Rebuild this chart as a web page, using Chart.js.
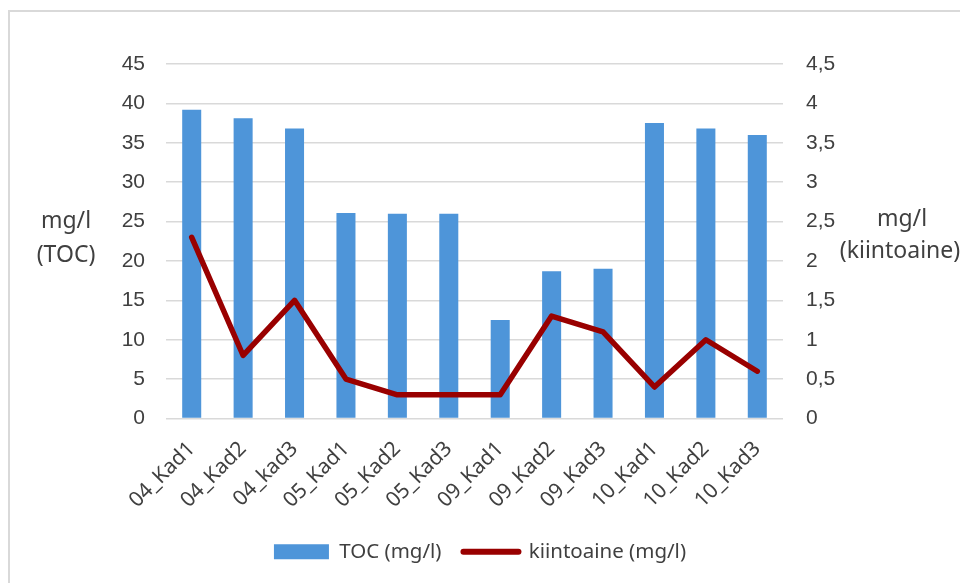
<!DOCTYPE html>
<html>
<head>
<meta charset="utf-8">
<script src="https://cdn.jsdelivr.net/npm/chart.js@4"></script>
<style>
  html, body { margin: 0; padding: 0; background: #fff; }
  #frame {
    position: absolute; left: 8px; top: 10px; right: 0; bottom: 0;
    border-left: 2px solid #d9d9d9; border-top: 2px solid #d9d9d9;
  }
  #wrap { position: absolute; left: 0; top: 0; width: 960px; height: 583px; }
</style>
</head>
<body>
<div id="frame"></div>
<div id="wrap"><canvas id="combo"></canvas></div>
<script>
// chart data
const categories = ['04_Kad1', '04_Kad2', '04_kad3', '05_Kad1', '05_Kad2', '05_Kad3',
  '09_Kad1', '09_Kad2', '09_Kad3', '10_Kad1', '10_Kad2', '10_Kad3'];
const tocValues = [39.2, 38.1, 36.8, 26.1, 26.0, 26.0, 12.5, 18.7, 19.0, 37.5, 36.8, 36.0];
const kiintoaineValues = [2.3, 0.8, 1.5, 0.5, 0.3, 0.3, 0.3, 1.3, 1.1, 0.4, 1.0, 0.6];

const barColor = '#4E95D9';
const lineColor = '#990000';
const textColor = '#404040';
const gridColor = '#d9d9d9';

// horizontal axis titles (Excel style, not rotated)
const axisTitles = {
  id: 'axisTitles',
  afterDraw(chart) {
    const ctx = chart.ctx;
    ctx.save();
    ctx.font = '23px "Noto Sans"';
    ctx.fillStyle = textColor;
    ctx.textAlign = 'center';
    ctx.textBaseline = 'middle';
    ctx.fillText('mg/l', 66, 221);
    ctx.fillText('(TOC)', 66, 255);
    ctx.fillText('mg/l', 902, 219);
    ctx.fillText('(kiintoaine)', 900, 251);
    ctx.restore();
  }
};

const ctx = document.getElementById('combo').getContext('2d');
new Chart(ctx, {
  data: {
    labels: categories,
    datasets: [{
      type: 'line',
      label: 'kiintoaine (mg/l)',
      data: kiintoaineValues,
      yAxisID: 'y2',
      borderColor: lineColor,
      backgroundColor: lineColor,
      borderWidth: 5.5,
      pointRadius: 0,
      tension: 0,
      borderJoinStyle: 'round',
      borderCapStyle: 'round',
      order: 0
    }, {
      type: 'bar',
      label: 'TOC (mg/l)',
      data: tocValues,
      yAxisID: 'y',
      backgroundColor: barColor,
      borderWidth: 0,
      barPercentage: 0.37,
      categoryPercentage: 1,
      order: 1
    }]
  },
  options: {
    responsive: true,
    maintainAspectRatio: false,
    animation: false,
    layout: { padding: { top: 64, bottom: 11, left: 0, right: 0 } },
    plugins: {
      tooltip: { enabled: false },
      legend: {
        position: 'bottom',
        labels: {
          usePointStyle: true,
          pointStyleWidth: 55,
          boxHeight: 15,
          padding: 22,
          color: textColor,
          font: { family: 'Noto Sans', size: 20.5 },
          generateLabels(chart) {
            return [{
              text: 'TOC (mg/l)', fillStyle: barColor, strokeStyle: barColor,
              lineWidth: 0, pointStyle: 'rect', datasetIndex: 1, fontColor: textColor
            }, {
              text: 'kiintoaine (mg/l)', fillStyle: lineColor, strokeStyle: lineColor,
              lineWidth: 6, lineCap: 'round', pointStyle: 'line', datasetIndex: 0, fontColor: textColor
            }];
          }
        }
      }
    },
    scales: {
      x: {
        grid: { display: false },
        border: { display: false },
        ticks: {
          color: textColor,
          font: { family: 'Noto Sans', size: 21 },
          minRotation: 45,
          maxRotation: 45,
          padding: 10
        },
        afterFit(scale) { scale.height = 101; }
      },
      y: {
        position: 'left',
        min: 0,
        max: 45,
        grid: { color: gridColor, lineWidth: 1.5, drawTicks: false },
        border: { display: false },
        ticks: {
          stepSize: 5,
          padding: 21,
          color: textColor,
          font: { family: 'Liberation Sans', size: 21 }
        },
        afterFit(scale) { scale.width = 166; }
      },
      y2: {
        position: 'right',
        min: 0,
        max: 4.5,
        grid: { drawOnChartArea: false, drawTicks: false },
        border: { display: false },
        ticks: {
          stepSize: 0.5,
          padding: 23,
          color: textColor,
          font: { family: 'Liberation Sans', size: 21 },
          callback: (v) => String(v).replace('.', ',')
        },
        afterFit(scale) { scale.width = 177; }
      }
    }
  },
  plugins: [axisTitles]
});
</script>
</body>
</html>
